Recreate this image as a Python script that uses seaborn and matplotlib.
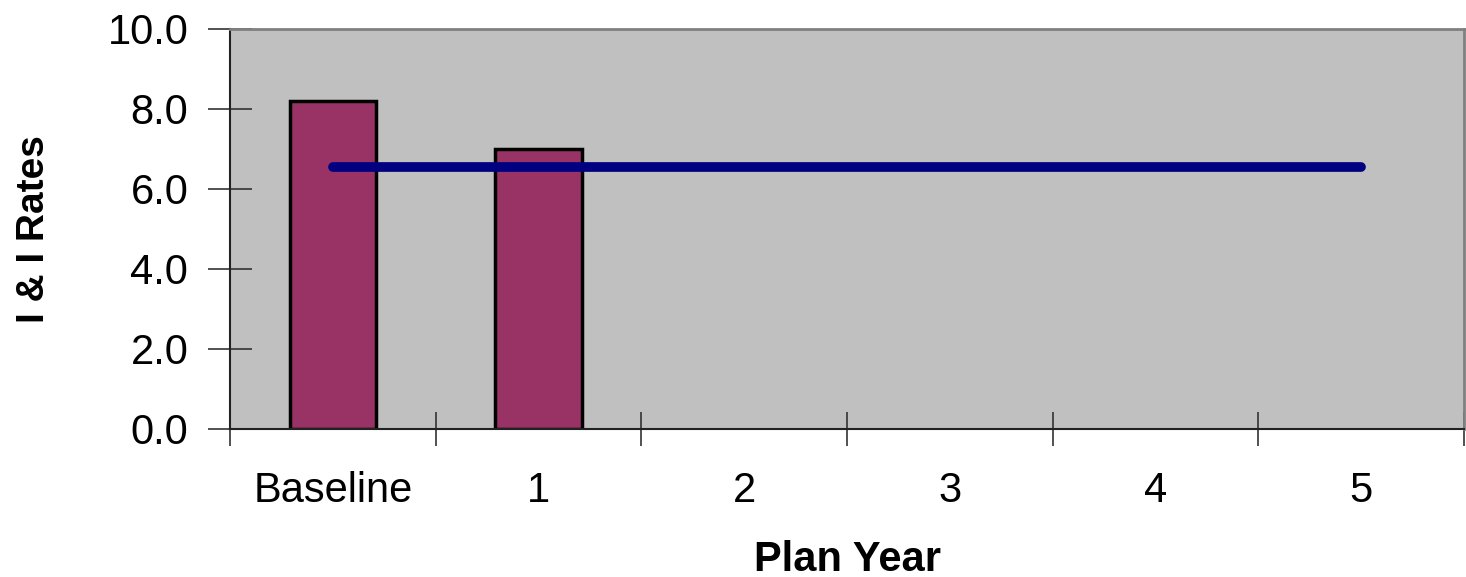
import numpy as np
import matplotlib
matplotlib.use("Agg")
import matplotlib.pyplot as plt
import seaborn as sns

# chart data
years = ["Baseline", "1", "2", "3", "4", "5"]
rates = [8.2, 7.0, np.nan, np.nan, np.nan, np.nan]
target = [6.55, 6.55, 6.55, 6.55, 6.55, 6.55]
y_ticks = [0.0, 2.0, 4.0, 6.0, 8.0, 10.0]

sns.set_style("white")
plt.rcParams["font.family"] = ["Liberation Sans", "DejaVu Sans"]
plt.rcParams["text.color"] = "black"
plt.rcParams["axes.labelcolor"] = "black"
plt.rcParams["xtick.color"] = "black"
plt.rcParams["ytick.color"] = "black"

fig = plt.figure(figsize=(14.66, 5.77), dpi=100)
ax = fig.add_axes([230 / 1466, 1 - 429 / 577, 1234 / 1466, 400 / 577])
ax.set_facecolor("#C0C0C0")

sns.barplot(x=years, y=rates, order=years, color="#993366", width=0.42,
            edgecolor="black", linewidth=2.5, saturation=1, ax=ax)

pos = np.arange(len(years))
sns.lineplot(x=pos, y=target, color="#000080", linewidth=7,
             solid_capstyle="round", ax=ax)

ax.set_xlim(-0.5, len(years) - 0.5)
ax.set_ylim(0, 10)
ax.set_yticks(y_ticks)
ax.set_yticklabels([f"{v:.1f}" for v in y_ticks], fontsize=30)
ax.set_xticks(pos)
ax.set_xticklabels(years, fontsize=30)
ax.set_xticks(np.arange(-0.5, len(years)), minor=True)

ax.tick_params(axis="x", which="major", length=0, pad=30)
ax.tick_params(axis="x", which="minor", direction="inout", length=24,
               width=1.2, color="#333333", bottom=True)
ax.tick_params(axis="y", direction="inout", length=32, width=1.2,
               color="#333333", pad=14, left=True)

for side in ["top", "right"]:
    ax.spines[side].set_color("#808080")
    ax.spines[side].set_linewidth(2)
for side in ["left", "bottom"]:
    ax.spines[side].set_color("#222222")
    ax.spines[side].set_linewidth(1.5)

ax.set_xlabel("Plan Year", fontsize=30, fontweight="bold", labelpad=21)
ax.set_ylabel("I & I Rates", fontsize=28, fontweight="bold", labelpad=40)

fig.savefig("out.png", dpi=100)
